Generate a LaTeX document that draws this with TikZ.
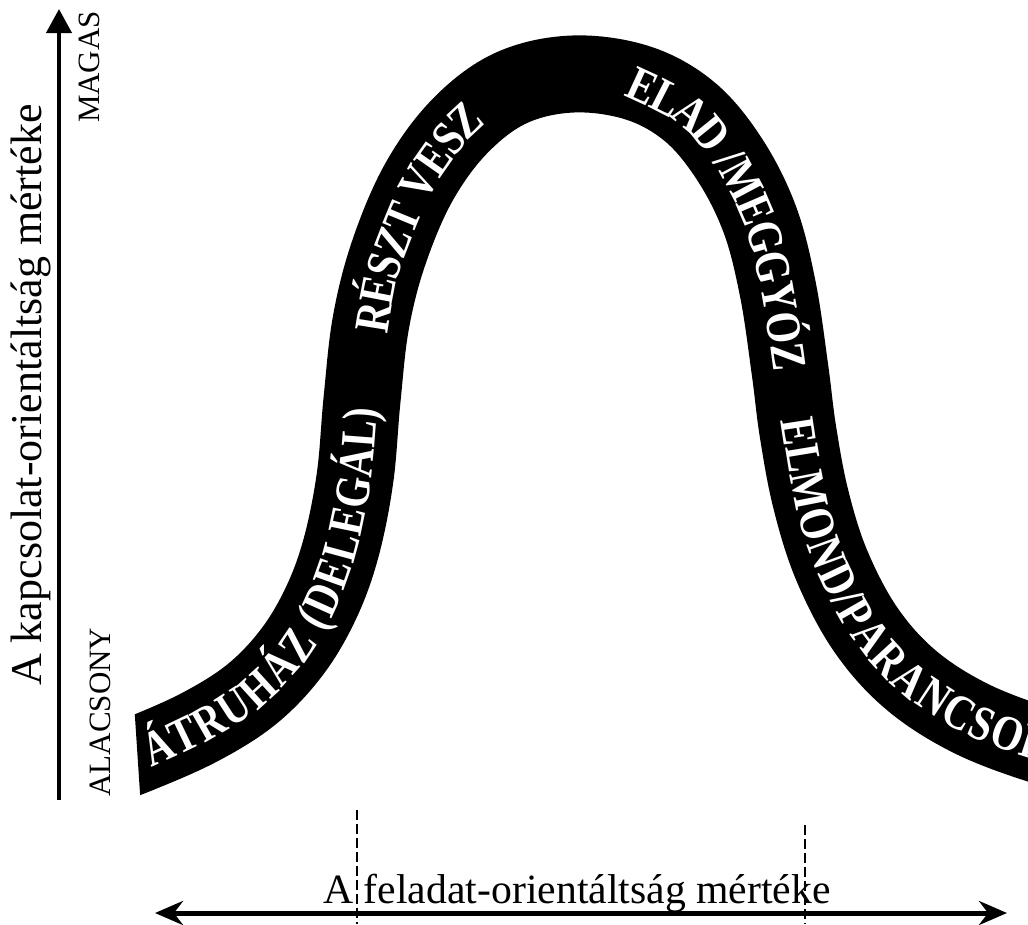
\documentclass[tikz,border=0pt]{standalone}
\usepackage{fontspec}
\setmainfont{Liberation Serif}
\newfontfamily\bandfont{Liberation Serif}[FakeStretch=0.82]
\usetikzlibrary{arrows.meta,decorations.text}
\begin{document}
\begin{tikzpicture}[x=1pt,y=-1pt,
  bandtext/.style={decorate, decoration={text along path, text color=white,
      text align=left, raise=-16.3pt,
      text={|\bandfont\bfseries\fontsize{49.5}{49.5}\selectfont|#1}}},
  axislabel/.style={inner sep=0pt, font=\fontsize{44}{44}\selectfont},
  levellabel/.style={inner sep=0pt, rotate=90, font=\fontsize{31}{31}\selectfont},
  divider/.style={line width=1.2pt, dash pattern=on 10pt off 4pt}]
\useasboundingbox (0,0) rectangle (1028,924);
% band
\begin{scope}
\clip (87.8,0) -- (148.6,924) -- (1100,924) -- (1100,0) -- cycle;
\draw[line width=77pt, line cap=butt] plot[smooth, tension=0.6] coordinates {(80,776) (137,755) (200,727) (252,694) (292,652) (321,603) (341,548) (355,478) (362,400) (371,322) (389,252) (419,182) (460,126) (511,88) (573,74) (638,83) (690,112) (730,160) (760,220) (778,290) (790,370) (798,432) (811,500) (832,566) (866,630) (911,680) (970,718) (1040,745) (1090,756)};
\end{scope}
% band texts
\path[bandtext={ÁTRUHÁZ (DELEGÁL)}] plot[smooth] coordinates {(145,753) (200,727) (252,694) (292,652) (321,603) (341,548) (355,478) (362,400) (371,322) (389,252)};
\path[bandtext={RÉSZT VESZ}] plot[smooth] coordinates {(371,332) (379,285) (389,252) (419,182) (460,126) (511,88) (573,74)};
\path[bandtext={ELAD /MEGGYÓZ}] plot[smooth] coordinates {(630,81) (690,112) (730,160) (760,220) (778,290) (790,370) (798,432) (811,500)};
\path[bandtext={ELMOND/PARANCSOL}] plot[smooth] coordinates {(797,418) (811,500) (832,566) (866,630) (911,680) (970,718) (1040,745) (1110,762) (1180,772)};
% vertical axis
\coordinate (vb) at (59,800);
\coordinate (vt) at (59,9);
\draw[line width=4pt, -{Triangle[length=24pt,width=25pt]}] (vb) -- (vt);
\node[axislabel, rotate=90] (vlab) at (31,395) {A kapcsolat-orientáltság mértéke};
\node[levellabel] (magas) at (89,67) {MAGAS};
\node[levellabel] (alacsony) at (100,712) {ALACSONY};
% horizontal axis
\coordinate (hl) at (155,913);
\coordinate (hr) at (1007,913);
\draw[line width=5pt, {Stealth[length=28pt,width=24pt]}-{Stealth[length=28pt,width=24pt]}] (hl) -- (hr);
\node[axislabel, anchor=base, font=\fontsize{41.7}{42}\selectfont] (hlab) at (577,903) {A feladat-orientáltság mértéke};
% dividers
\coordinate (d1t) at (357,810);
\coordinate (d1b) at (357,924);
\coordinate (d2t) at (805,825);
\coordinate (d2b) at (805,924);
\draw[divider] (d1t) -- (d1b);
\draw[divider] (d2t) -- (d2b);
\end{tikzpicture}
\end{document}
